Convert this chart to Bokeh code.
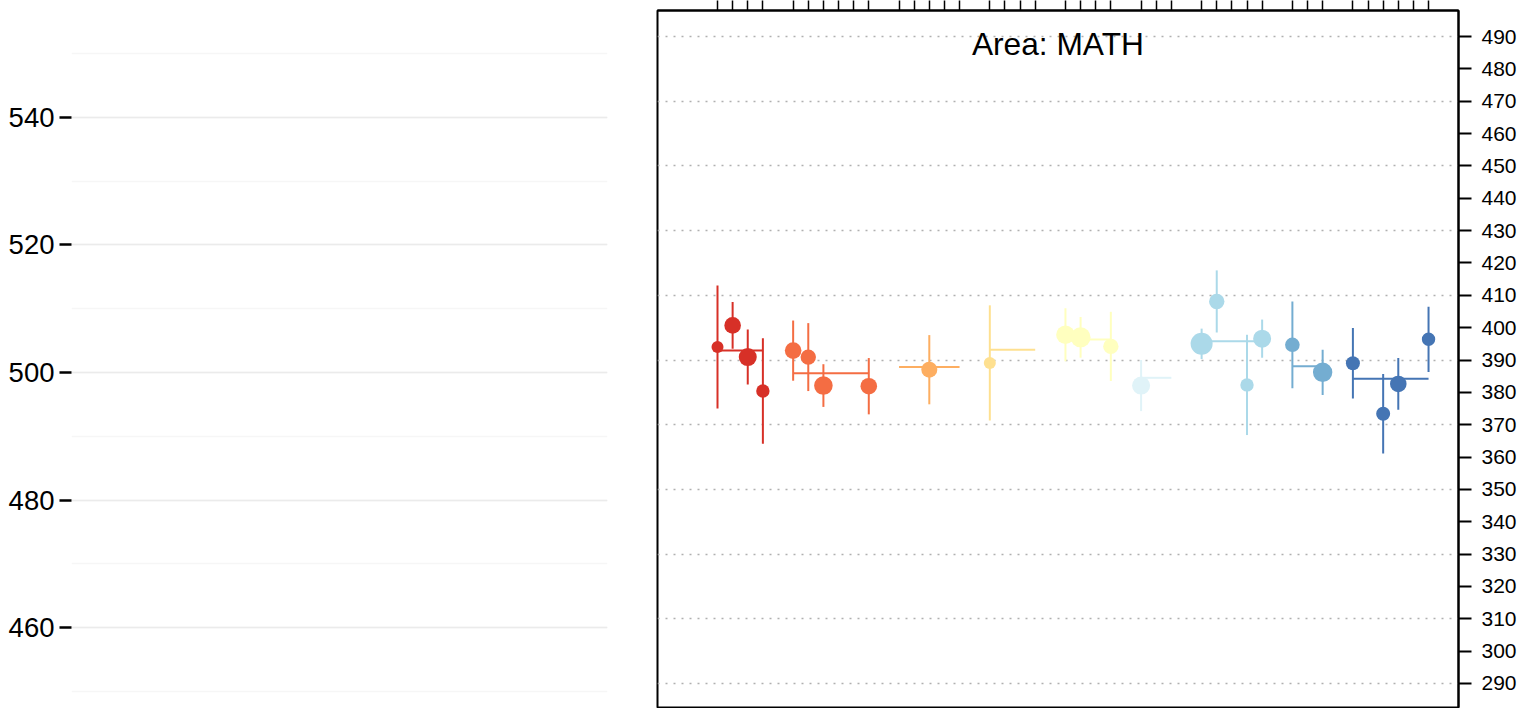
from bokeh.plotting import figure
from bokeh.layouts import row
from bokeh.models import (Range1d, SingleIntervalTicker, FixedTicker,
                          ColumnDataSource, Label)
from bokeh.embed import file_html
from bokeh.resources import INLINE

# ---------------- data ----------------
group_colors = ["#d73027", "#f46d43", "#fdae61", "#fee090", "#ffffbf",
                "#e0f3f8", "#abd9e9", "#74add1", "#4575b4"]
group_first = [0, 5, 12, 18, 23, 28, 32, 38, 42]
group_last = [3, 10, 16, 21, 26, 30, 36, 40, 47]
group_mean = [392.9, 385.9, 387.8, 393.2, 396.3, 384.5, 395.8, 388.1, 384.2]

school_x = [0, 1, 2, 3, 5, 6, 7, 10, 14, 18, 23, 24, 26, 28,
            32, 33, 35, 36, 38, 40, 42, 44, 45, 47]
school_group = [0, 0, 0, 0, 1, 1, 1, 1, 2, 3, 4, 4, 4, 5,
                6, 6, 6, 6, 7, 7, 8, 8, 8, 8]
school_mean = [394.0, 400.7, 390.9, 380.4, 392.9, 390.9, 382.1, 381.9, 387.0,
               389.1, 397.8, 397.0, 394.2, 382.1, 395.0, 408.1, 382.3, 396.6,
               394.7, 386.2, 389.0, 373.4, 382.6, 396.4]
school_ci = [19.0, 7.2, 8.5, 16.3, 9.3, 10.5, 6.6, 8.7, 10.7, 17.8, 8.2, 6.3,
             10.7, 7.9, 4.7, 9.6, 15.5, 5.9, 13.4, 7.0, 10.9, 12.3, 8.0, 10.1]
school_weight = [0.60, 0.83, 0.90, 0.67, 0.83, 0.77, 0.93, 0.83, 0.80, 0.60,
                 0.93, 1.00, 0.77, 0.90, 1.10, 0.77, 0.67, 0.90, 0.73, 0.97,
                 0.70, 0.70, 0.83, 0.67]

title_text = "Area: MATH"
FONT = "Liberation Sans"

# ---------------- left (empty) panel ----------------
left = figure(width=650, height=708, output_backend="svg", toolbar_location=None,
              x_range=Range1d(0, 1), y_range=Range1d(447.51, 556.72),
              x_axis_location=None, min_border_left=71, min_border_right=43,
              min_border_top=10, min_border_bottom=1)
left.outline_line_color = None
left.xgrid.visible = False
lt = SingleIntervalTicker(interval=20, num_minor_ticks=2)
ax = left.yaxis[0]
ax.ticker = lt
ax.axis_line_color = None
ax.major_tick_out = 12
ax.major_tick_in = 0
ax.major_tick_line_width = 2.5
ax.major_tick_line_color = "black"
ax.minor_tick_line_color = None
ax.major_label_text_font = FONT
ax.major_label_text_font_size = "27.5px"
ax.major_label_text_color = "black"
ax.major_label_standoff = 5
left.ygrid.ticker = lt
left.ygrid.grid_line_color = "#ebebeb"
left.ygrid.grid_line_width = 1.5
left.ygrid.minor_grid_line_color = "#f6f6f6"
left.ygrid.minor_grid_line_width = 1.5

# ---------------- right panel ----------------
p = figure(width=877, height=708, output_backend="svg", toolbar_location=None,
           x_range=Range1d(-3.966, 48.98), y_range=Range1d(282.58, 498.04),
           x_axis_location="above", y_axis_location="right",
           min_border_left=7, min_border_right=69, min_border_top=10,
           min_border_bottom=1)
p.outline_line_color = "black"
p.outline_line_width = 2
p.xgrid.visible = False

ticks_top = [i for s, e in zip(group_first, group_last) for i in range(s, e + 1)]
xa = p.xaxis[0]
xa.ticker = FixedTicker(ticks=[], minor_ticks=ticks_top)
xa.major_label_standoff = 0
xa.major_tick_out = 0
xa.major_tick_in = 0
xa.minor_tick_out = 10
xa.minor_tick_in = 0
xa.minor_tick_line_width = 1.5
xa.minor_tick_line_color = "black"
xa.axis_line_color = "black"
xa.axis_line_width = 2

ya = p.yaxis[0]
ya.ticker = SingleIntervalTicker(interval=10)
ya.major_tick_out = 13
ya.major_tick_in = 0
ya.major_tick_line_width = 2
ya.major_tick_line_color = "black"
ya.minor_tick_line_color = None
ya.axis_line_width = 2
ya.axis_line_color = "black"
ya.major_label_text_font = FONT
ya.major_label_text_font_size = "21px"
ya.major_label_text_color = "black"
ya.major_label_standoff = 10

p.ygrid.ticker = FixedTicker(ticks=list(range(290, 500, 20)))
p.ygrid.grid_line_color = "#b0b0b0"
p.ygrid.grid_line_width = 1.5
p.ygrid.grid_line_dash = "2 6"

# group mean lines
gsrc = ColumnDataSource(dict(x0=group_first, x1=group_last, y=group_mean,
                             color=group_colors))
p.segment(x0="x0", y0="y", x1="x1", y1="y", source=gsrc, line_color="color",
          line_width=2)

# school error bars and points
ssrc = ColumnDataSource(dict(
    x=school_x,
    y=school_mean,
    lo=[m - c for m, c in zip(school_mean, school_ci)],
    hi=[m + c for m, c in zip(school_mean, school_ci)],
    color=[group_colors[g] for g in school_group],
    size=[20 * w for w in school_weight],
))
p.segment(x0="x", y0="lo", x1="x", y1="hi", source=ssrc, line_color="color",
          line_width=2)
p.scatter(x="x", y="y", size="size", source=ssrc, fill_color="color",
          line_color=None)

p.add_layout(Label(x=22.5, y=487.8, text=title_text, text_align="center",
                   text_baseline="alphabetic", text_font=FONT,
                   text_font_size="31.7px", text_color="black"))

layout = row(left, p, spacing=0,
             styles={"position": "absolute", "top": "0px", "left": "0px"})

open("out.html", "w").write(file_html(layout, INLINE))
